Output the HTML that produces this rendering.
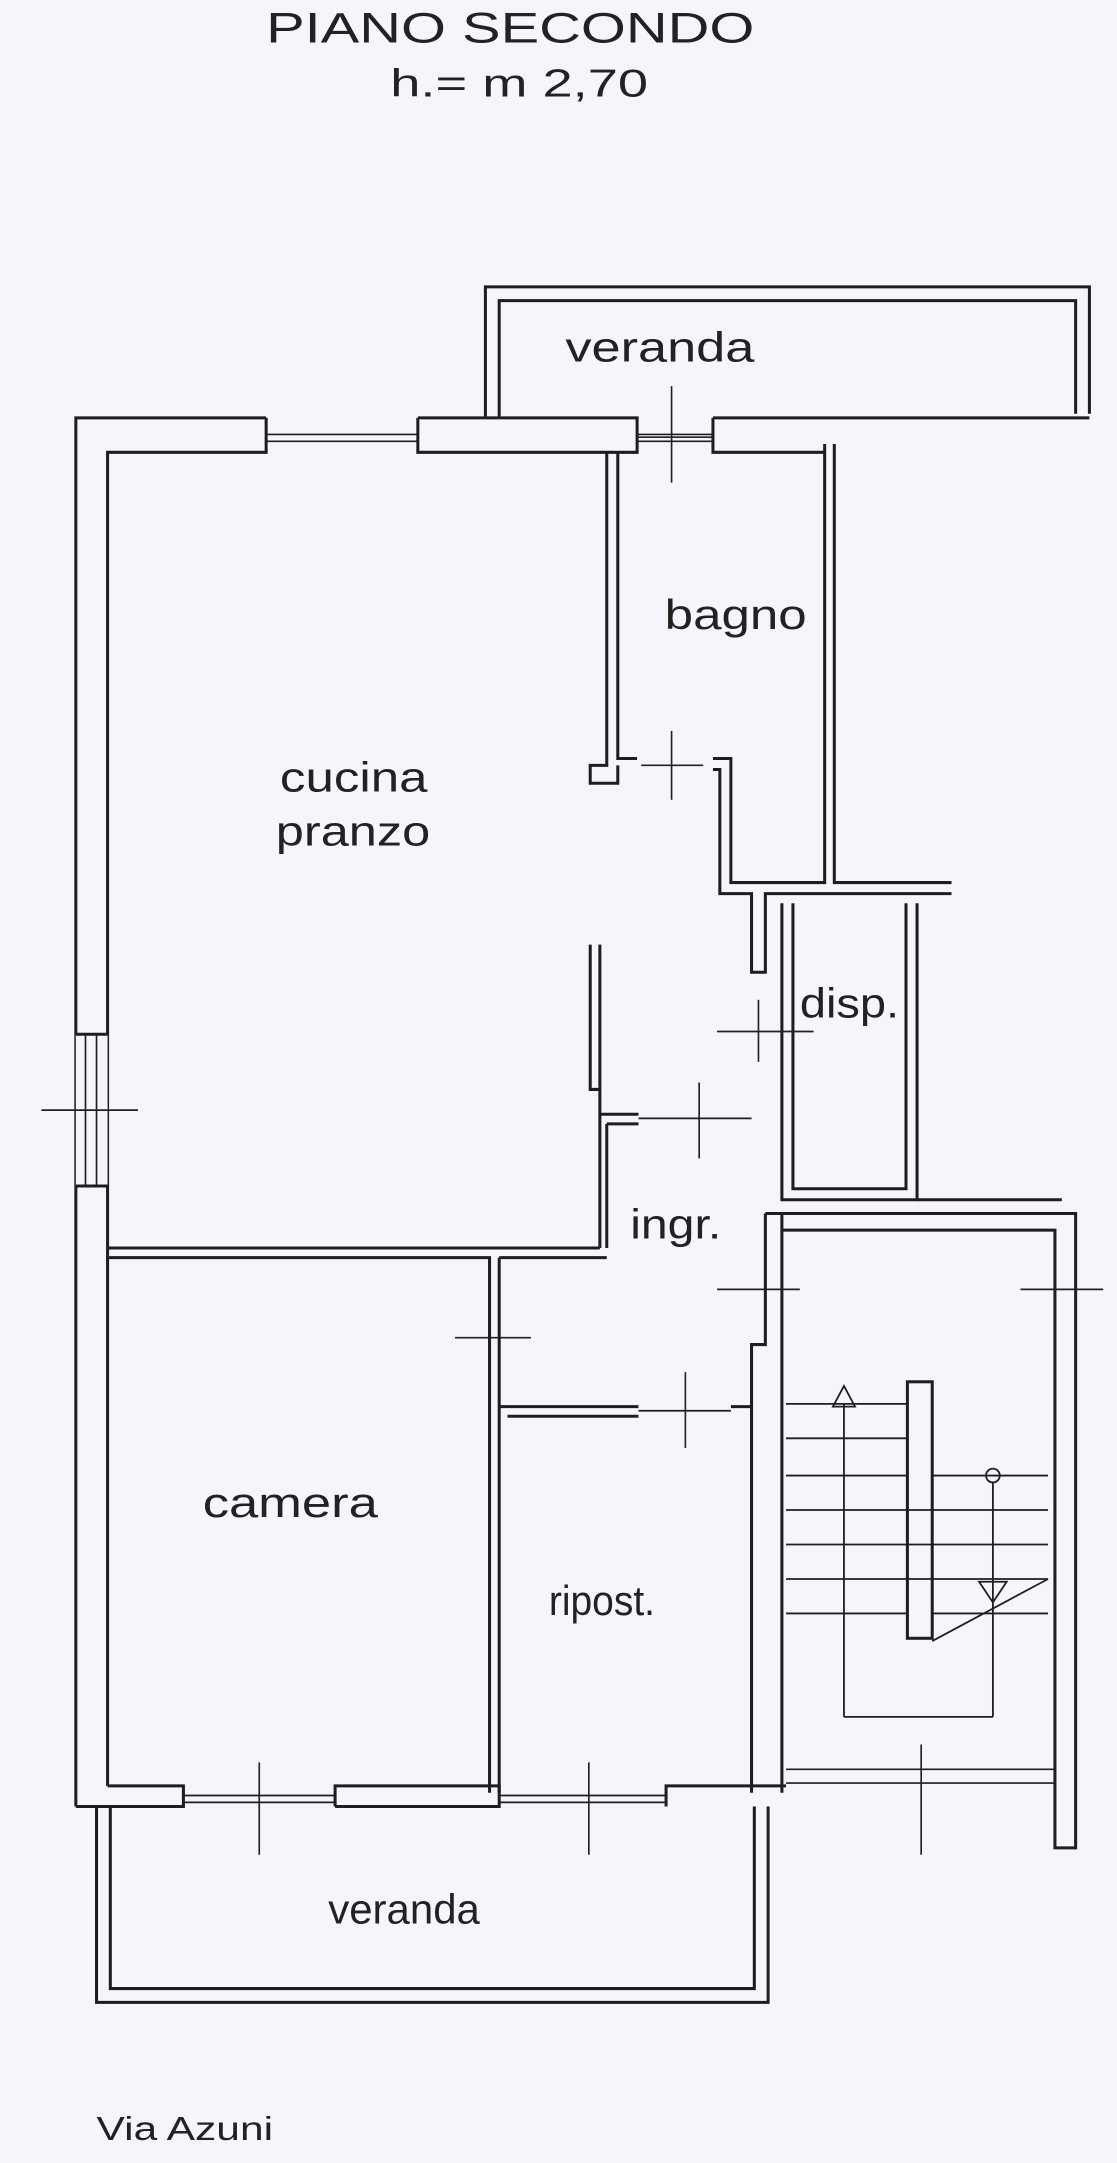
<!DOCTYPE html>
<html><head><meta charset="utf-8"><style>
html,body{margin:0;padding:0;background:#f4f6fb;}
svg{display:block}
text{font-family:"Liberation Sans",sans-serif;fill:#222;}
</style></head><body>
<svg width="1117" height="2163" viewBox="0 0 810 1568.5" preserveAspectRatio="none" xmlns="http://www.w3.org/2000/svg">
<rect width="810" height="1569" fill="#f4f6fb"/>
<text x="193" y="31" font-size="31" textLength="354" lengthAdjust="spacingAndGlyphs">PIANO SECONDO</text>
<text x="283" y="70" font-size="28" textLength="187" lengthAdjust="spacingAndGlyphs">h.= m 2,70</text>

<g fill="none" stroke="#1e1e1e" stroke-width="2.2">
<polyline points="352,303 352,208 790,208 790,300"/>
<polyline points="362,303 362,218 780,218 780,300"/>
<polyline points="55,1310 55,303 193,303"/>
<polyline points="78,1295 78,328 193,328 193,303"/>
<line x1="193" y1="315" x2="303" y2="315" stroke-width="1.2"/>
<line x1="193" y1="320" x2="303" y2="320" stroke-width="1.2"/>
<polyline points="303,303 462,303 462,328 303,328 303,303"/>
<line x1="462" y1="315" x2="517" y2="315" stroke-width="1.2"/>
<line x1="462" y1="320" x2="517" y2="320" stroke-width="1.2"/>
<polyline points="517,303 790,303"/>
<polyline points="517,303 517,328 598,328"/>
<rect x="55" y="750" width="23" height="110" fill="#f4f6fb" stroke="none"/>
<line x1="55" y1="750" x2="78" y2="750"/><line x1="55" y1="860" x2="78" y2="860"/>
<line x1="62" y1="750" x2="62" y2="860" stroke-width="1.2"/><line x1="70" y1="750" x2="70" y2="860" stroke-width="1.2"/>
<polyline points="440,328 440,555 428,555 428,568 448,568 448,555"/>
<polyline points="448,328 448,550 462,550"/>
<polyline points="517,550 530,550 530,640 598,640 598,322"/>
<polyline points="517,558 522,558 522,648 545,648 545,705 555,705 555,648 690,648"/>
<polyline points="605,322 605,640 690,640"/>
<polyline points="567,655 567,870 665,870 665,655"/>
<polyline points="657,655 657,862 575,862 575,655"/>
<polyline points="665,870 770,870"/>
<polyline points="555,880 555,975 545,975 545,1300"/>
<polyline points="567,880 567,1300"/>
<polyline points="555,880 780,880 780,975"/>
<polyline points="567,892 765,892 765,975"/>
<polyline points="765,975 765,1340 780,1340 780,975"/>
<polyline points="428,685 428,790 435,790 435,905"/>
<polyline points="435,685 435,790"/>
<polyline points="435,808 463,808"/><polyline points="440,815 463,815"/>
<line x1="463" y1="811" x2="545" y2="811" stroke-width="1.2"/>
<polyline points="440,815 440,905"/>
<polyline points="78,905 435,905"/>
<polyline points="78,912 355,912 355,1300"/>
<polyline points="362,912 440,912"/>
<polyline points="362,912 362,1300"/>
<polyline points="362,1020 463,1020"/>
<polyline points="368,1027 463,1027"/>
<line x1="463" y1="1023" x2="530" y2="1023" stroke-width="1.2"/>
<polyline points="530,1020 545,1020"/>
<polyline points="55,1310 133,1310 133,1295 78,1295"/>
<line x1="133" y1="1302" x2="243" y2="1302" stroke-width="1.2"/>
<line x1="133" y1="1307" x2="243" y2="1307" stroke-width="1.2"/>
<polyline points="243,1310 243,1295 362,1295 362,1310 243,1310"/>
<line x1="362" y1="1302" x2="483" y2="1302" stroke-width="1.2"/>
<line x1="362" y1="1307" x2="483" y2="1307" stroke-width="1.2"/>
<polyline points="483,1310 483,1295 545,1295 570,1295"/>
<line x1="570" y1="1283" x2="765" y2="1283" stroke-width="1.2"/>
<line x1="570" y1="1293" x2="765" y2="1293" stroke-width="1.2"/>
<polyline points="70,1310 70,1452 557,1452 557,1310"/>
<polyline points="80,1310 80,1442 547,1442 547,1310"/>
<g stroke-width="1.3">
<line x1="570" y1="1018" x2="658" y2="1018"/>
<line x1="570" y1="1043" x2="658" y2="1043"/>
<line x1="570" y1="1070" x2="658" y2="1070"/>
<line x1="570" y1="1095" x2="760" y2="1095"/>
<line x1="570" y1="1120" x2="760" y2="1120"/>
<line x1="570" y1="1145" x2="760" y2="1145"/>
<line x1="570" y1="1170" x2="658" y2="1170"/>
<line x1="676" y1="1070" x2="760" y2="1070"/>
<line x1="676" y1="1170" x2="760" y2="1170"/>
<line x1="676" y1="1190" x2="760" y2="1145"/>
<line x1="612" y1="1018" x2="612" y2="1245"/>
<line x1="612" y1="1245" x2="720" y2="1245"/>
<line x1="720" y1="1075" x2="720" y2="1245"/>
</g>
<rect x="658" y="1002" width="18" height="186"/>
<polygon points="612,1005 604,1020 620,1020" stroke-width="1.3"/>
<circle cx="720" cy="1070" r="5" stroke-width="1.3"/>
<polygon points="720,1162 710,1147 730,1147" stroke-width="1.3"/>
</g>
<g stroke="#222" stroke-width="1.2">
<line x1="487" y1="280" x2="487" y2="350"/><line x1="462" y1="317" x2="517" y2="317"/>
<line x1="487" y1="530" x2="487" y2="580"/><line x1="465" y1="555" x2="510" y2="555"/>
<line x1="30" y1="805" x2="100" y2="805"/>
<line x1="507" y1="785" x2="507" y2="840"/>
<line x1="520" y1="748" x2="590" y2="748"/><line x1="550" y1="725" x2="550" y2="770"/>
<line x1="330" y1="970" x2="385" y2="970"/>
<line x1="497" y1="995" x2="497" y2="1050"/>
<line x1="520" y1="935" x2="580" y2="935"/>
<line x1="188" y1="1278" x2="188" y2="1345"/>
<line x1="427" y1="1278" x2="427" y2="1345"/>
<line x1="668" y1="1265" x2="668" y2="1345"/>
<line x1="740" y1="935" x2="800" y2="935"/>
</g>
<g font-size="30" >
<text x="410" y="262" textLength="137" lengthAdjust="spacingAndGlyphs">veranda</text>
<text x="482" y="456" textLength="103" lengthAdjust="spacingAndGlyphs">bagno</text>
<text x="203" y="574" textLength="107" lengthAdjust="spacingAndGlyphs">cucina</text>
<text x="200" y="613" textLength="112" lengthAdjust="spacingAndGlyphs">pranzo</text>
<text x="580" y="738" textLength="72" lengthAdjust="spacingAndGlyphs">disp.</text>
<text x="457" y="898" textLength="66" lengthAdjust="spacingAndGlyphs">ingr.</text>
<text x="147" y="1100" textLength="127" lengthAdjust="spacingAndGlyphs">camera</text>
<text x="398" y="1171" textLength="77" lengthAdjust="spacingAndGlyphs">ripost.</text>
<text x="238" y="1395" textLength="110" lengthAdjust="spacingAndGlyphs">veranda</text>
</g>
<text x="70" y="1552" font-size="24" textLength="128" lengthAdjust="spacingAndGlyphs">Via Azuni</text>
</svg>
</body></html>
